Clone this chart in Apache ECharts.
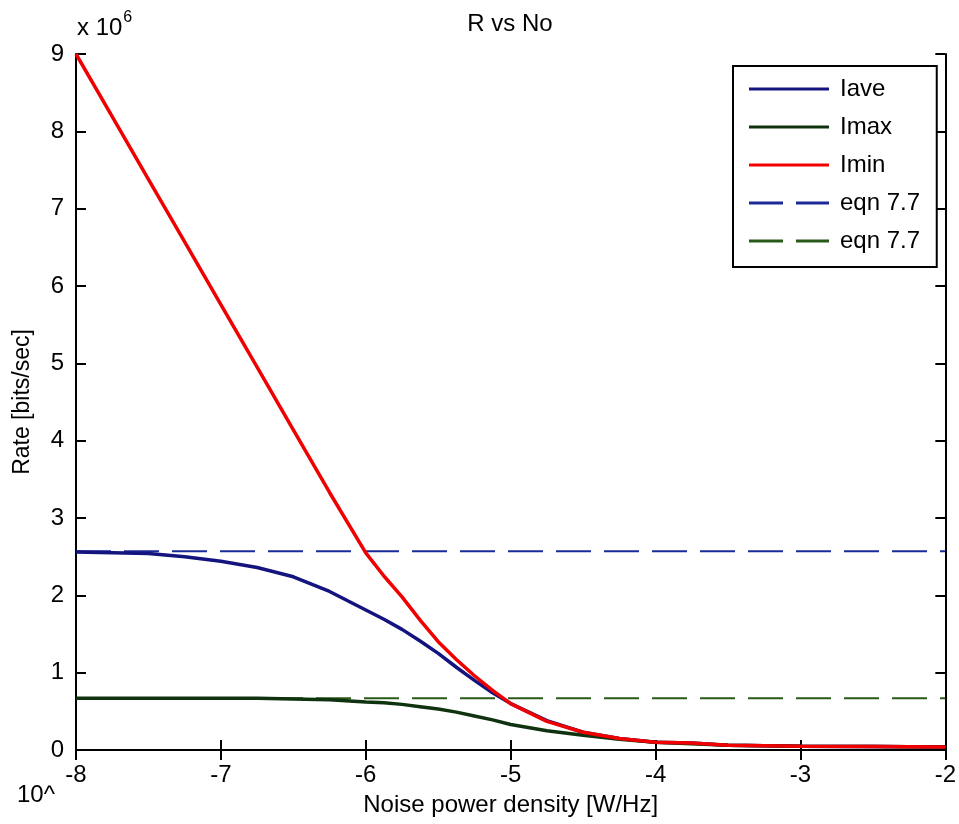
<!DOCTYPE html>
<html>
<head>
<meta charset="utf-8">
<script src="https://cdn.jsdelivr.net/npm/echarts@6/dist/echarts.min.js"></script>
<style>html,body{margin:0;padding:0;background:#fff}#c{width:959px;height:824px}</style>
</head>
<body>
<div id="c"></div>
<script>
// exponent of noise power density (10^x W/Hz)
var noiseExp = [-8, -7.75, -7.5, -7.25, -7, -6.75, -6.5, -6.25, -6, -5.875, -5.75, -5.625, -5.5, -5.375, -5.25, -5.125, -5, -4.75, -4.5, -4.25, -4, -3.75, -3.5, -3, -2.5, -2];
// rates in units of 10^6 bits/sec
var iave = [2.56, 2.55, 2.54, 2.50, 2.44, 2.36, 2.24, 2.05, 1.81, 1.69, 1.56, 1.41, 1.25, 1.07, 0.90, 0.74, 0.60, 0.38, 0.23, 0.15, 0.10, 0.09, 0.06, 0.05, 0.045, 0.04];
var imax = [0.67, 0.67, 0.67, 0.67, 0.67, 0.67, 0.66, 0.65, 0.62, 0.61, 0.59, 0.56, 0.53, 0.49, 0.44, 0.39, 0.33, 0.25, 0.19, 0.14, 0.10, 0.08, 0.06, 0.05, 0.045, 0.04];
var imin = [9.0, 8.19, 7.38, 6.57, 5.76, 4.95, 4.14, 3.33, 2.55, 2.25, 1.98, 1.68, 1.40, 1.17, 0.96, 0.77, 0.60, 0.37, 0.23, 0.15, 0.10, 0.09, 0.06, 0.05, 0.045, 0.04];
var eqnAveExp = [-8, -2];
var eqnAve = [2.57, 2.57];
var eqnMax = [0.67, 0.67];
var xTicks = [-8, -2, 1];
var yTicks = [0, 9, 1];

function pairs(xs, ys) { return xs.map(function (x, i) { return [x, ys[i]]; }); }

var FONT = 'Liberation Sans, Arial, sans-serif';
var chart = echarts.init(document.getElementById('c'), null, { renderer: 'canvas' });

var axCommonX = {
  type: 'value', min: xTicks[0], max: xTicks[1], interval: xTicks[2],
  axisLine: { show: true, lineStyle: { color: '#000', width: 2 } },
  axisTick: { show: true, inside: true, length: 10, lineStyle: { color: '#000', width: 2 } },
  splitLine: { show: false }
};
var axCommonY = {
  type: 'value', min: yTicks[0], max: yTicks[1], interval: yTicks[2],
  axisLine: { show: true, lineStyle: { color: '#000', width: 2 } },
  axisTick: { show: true, inside: true, length: 10, lineStyle: { color: '#000', width: 2 } },
  splitLine: { show: false }
};

var SOLID = 'path://M0,0H80V3H0Z';
var DASH = 'path://M0,0H34V3H0Z M47,0H80V3H47Z';

chart.setOption({
  animation: false,
  backgroundColor: '#fff',
  title: {
    text: 'R vs No', left: 505, top: 7, textAlign: 'center',
    textStyle: { fontFamily: FONT, fontSize: 24, fontWeight: 'normal', color: '#000' }
  },
  grid: { left: 76, right: 13, top: 54, bottom: 74 },
  xAxis: [
    Object.assign({}, axCommonX, {
      position: 'bottom',
      axisLabel: { show: true, margin: 13, fontFamily: FONT, fontSize: 24, color: '#000' },
      name: 'Noise power density [W/Hz]', nameLocation: 'middle', nameGap: 43,
      nameTextStyle: { fontFamily: FONT, fontSize: 24, color: '#000' }
    }),
    Object.assign({}, axCommonX, { position: 'top', axisLabel: { show: false } })
  ],
  yAxis: [
    Object.assign({}, axCommonY, {
      position: 'left',
      axisLabel: { show: true, margin: 12, fontFamily: FONT, fontSize: 24, color: '#000' },
      name: 'Rate [bits/sec]', nameLocation: 'middle', nameGap: 42,
      nameTextStyle: { fontFamily: FONT, fontSize: 23, color: '#000' }
    }),
    Object.assign({}, axCommonY, { position: 'right', axisLabel: { show: false } })
  ],
  legend: {
    left: 733, top: 66, orient: 'vertical',
    backgroundColor: '#fff', borderColor: '#000', borderWidth: 2,
    padding: [11, 10, 14, 16],
    itemWidth: 80, itemHeight: 3, itemGap: 14,
    textStyle: { fontFamily: FONT, fontSize: 24, color: '#000', padding: [0, 0, 0, 6] },
    data: [
      { name: 'Iave', icon: SOLID },
      { name: 'Imax', icon: SOLID },
      { name: 'Imin', icon: SOLID },
      { name: 'eqn 7.7', icon: DASH },
      { name: 'eqn 7.7 ', icon: DASH }
    ]
  },
  graphic: [
    { type: 'text', left: 77, top: 10, style: { text: '{a|x 10}{b|6}', rich: { a: { fontFamily: FONT, fontSize: 24, fill: '#000', verticalAlign: 'bottom' }, b: { fontFamily: FONT, fontSize: 16, fill: '#000', verticalAlign: 'top', padding: [0, 0, 14, 1] } } } },
    { type: 'text', left: 17, top: 783, style: { text: '10^', fontFamily: FONT, fontSize: 24, fill: '#000' } }
  ],
  series: [
    { name: 'Iave', type: 'line', data: pairs(noiseExp, iave), showSymbol: false, symbol: 'none', lineStyle: { color: '#14147e', width: 3.5 }, itemStyle: { color: '#14147e' }, z: 3 },
    { name: 'Imax', type: 'line', data: pairs(noiseExp, imax), showSymbol: false, symbol: 'none', lineStyle: { color: '#0e330e', width: 3.5 }, itemStyle: { color: '#0e330e' }, z: 3 },
    { name: 'Imin', type: 'line', data: pairs(noiseExp, imin), showSymbol: false, symbol: 'none', lineStyle: { color: '#f00000', width: 3.5 }, itemStyle: { color: '#f00000' }, z: 4 },
    { name: 'eqn 7.7', type: 'line', data: pairs(eqnAveExp, eqnAve), showSymbol: false, symbol: 'none', lineStyle: { color: '#1c2a98', width: 2, type: [35, 13] }, itemStyle: { color: '#1c2a98' }, z: 2 },
    { name: 'eqn 7.7 ', type: 'line', data: pairs(eqnAveExp, eqnMax), showSymbol: false, symbol: 'none', lineStyle: { color: '#2a5a1a', width: 2, type: [35, 13] }, itemStyle: { color: '#2a5a1a' }, z: 2 }
  ]
});
</script>
</body>
</html>
